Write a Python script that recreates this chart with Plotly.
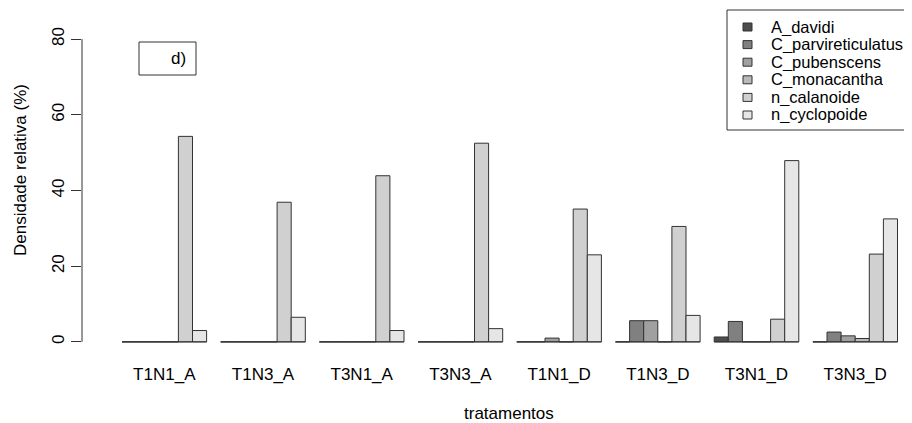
import plotly.graph_objects as go

categories = ["T1N1_A", "T1N3_A", "T3N1_A", "T3N3_A", "T1N1_D", "T1N3_D", "T3N1_D", "T3N3_D"]
series_names = ["A_davidi", "C_parvireticulatus", "C_pubenscens", "C_monacantha", "n_calanoide", "n_cyclopoide"]
A_davidi = [0, 0, 0, 0, 0, 0, 1.3, 0]
C_parvireticulatus = [0, 0, 0, 0, 0, 5.6, 5.4, 2.6]
C_pubenscens = [0, 0, 0, 0, 1.0, 5.6, 0, 1.6]
C_monacantha = [0, 0, 0, 0, 0, 0, 0, 0.9]
n_calanoide = [54.3, 36.9, 43.9, 52.5, 35.1, 30.5, 6.0, 23.2]
n_cyclopoide = [3.0, 6.5, 3.0, 3.5, 23.0, 7.0, 47.9, 32.5]
series_values = [A_davidi, C_parvireticulatus, C_pubenscens, C_monacantha, n_calanoide, n_cyclopoide]
colors = ["#4D4D4D", "#808080", "#A0A0A0", "#B9B9B9", "#D0D0D0", "#E6E6E6"]
y_ticks = [0, 20, 40, 60, 80]

FONT = "Liberation Sans, Arial, sans-serif"
EDGE = "#333333"
OFF = 8  # page body margin in the browser
W, H = 912 - OFF, 423 - OFF
ML, MR, MT, MB = 82 - OFF, 0, 27 - OFF, 69
PW, PH = W - ML - MR, H - MT - MB


def px_x(p):
    """screen pixel (reference coords) -> paper x"""
    return (p - OFF - ML) / PW


def px_y(p):
    """screen pixel (reference coords) -> paper y"""
    return (H - MB - (p - OFF)) / PH


fig = go.Figure()
for name, vals, col in zip(series_names, series_values, colors):
    fig.add_trace(go.Bar(
        x=categories, y=vals, name=name, showlegend=False,
        marker=dict(color=col, line=dict(color=EDGE, width=1)),
    ))

nser = len(series_names)
bargap = 1.0 / (nser + 1)
half = (1 - bargap) / 2
shapes = []
# baseline of zero-height bars in each group
for i, _ in enumerate(categories):
    shapes.append(dict(type="line", xref="x", yref="y", x0=i - half, x1=i + half,
                       y0=0, y1=0, line=dict(color=EDGE, width=1)))
# y axis line from first to last tick (R style)
shapes.append(dict(type="line", xref="paper", yref="y", x0=0, x1=0,
                   y0=y_ticks[0], y1=y_ticks[-1], line=dict(color=EDGE, width=1)))

annotations = []
# legend box
shapes.append(dict(type="rect", xref="paper", yref="paper",
                   x0=px_x(727), x1=px_x(910), y0=px_y(130), y1=px_y(10),
                   line=dict(color=EDGE, width=1), fillcolor="white", layer="above"))
for k, (name, col) in enumerate(zip(series_names, colors)):
    yc = 27 + 17.6 * k
    shapes.append(dict(type="rect", xref="paper", yref="paper",
                       x0=px_x(743), x1=px_x(752), y0=px_y(yc + 4), y1=px_y(yc - 4),
                       line=dict(color=EDGE, width=1), fillcolor=col, layer="above"))
    annotations.append(dict(text=name, xref="paper", yref="paper", x=px_x(769), y=px_y(yc),
                            xanchor="left", yanchor="middle", showarrow=False,
                            height=17, valign="middle",
                            font=dict(family=FONT, size=16.5, color="black")))

# "d)" panel label box
shapes.append(dict(type="rect", xref="paper", yref="paper",
                   x0=px_x(139), x1=px_x(196), y0=px_y(75), y1=px_y(42),
                   line=dict(color=EDGE, width=1), fillcolor="white", layer="above"))
annotations.append(dict(text="d)", xref="paper", yref="paper", x=px_x(188), y=px_y(58),
                        xanchor="right", yanchor="middle", showarrow=False,
                        font=dict(family=FONT, size=17, color="black")))

# axis titles
annotations.append(dict(text="tratamentos", xref="paper", yref="paper", x=px_x(509), y=px_y(425),
                        xanchor="center", yanchor="bottom", showarrow=False,
                        font=dict(family=FONT, size=17, color="black")))
annotations.append(dict(text="Densidade relativa (%)", xref="paper", yref="paper", x=px_x(20),
                        y=px_y(170), xanchor="center", yanchor="middle", textangle=-90,
                        showarrow=False, font=dict(family=FONT, size=17, color="black")))

fig.update_layout(
    width=W, height=H,
    margin=dict(l=ML, r=MR, t=MT, b=MB, pad=0, autoexpand=False),
    paper_bgcolor="white", plot_bgcolor="white",
    barmode="group", bargap=bargap, bargroupgap=0,
    font=dict(family=FONT, size=17, color="black"),
    shapes=shapes, annotations=annotations,
    xaxis=dict(
        type="category", range=[-0.8338, 7.5755], automargin=False,
        showgrid=False, zeroline=False, showline=False, ticks="",
        tickfont=dict(family=FONT, size=17, color="black"),
        ticklabelstandoff=8,
    ),
    yaxis=dict(
        range=[-3.2, 83.2], tickvals=y_ticks, automargin=False,
        showgrid=False, zeroline=False, showline=False,
        ticks="outside", ticklen=10, tickwidth=1, tickcolor=EDGE,
        tickangle=-90, tickfont=dict(family=FONT, size=17, color="black"),
    ),
)

fig.write_html("out.html")
